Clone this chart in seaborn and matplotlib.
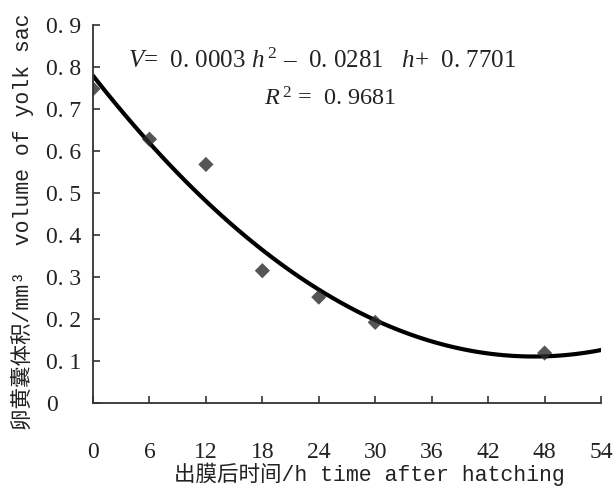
import matplotlib
matplotlib.use("Agg")
import matplotlib.pyplot as plt
import seaborn as sns

# hours after hatching and yolk sac volume (mm^3)
hours = [0, 6, 12, 18, 24, 30, 48]
volume = [0.748, 0.628, 0.568, 0.315, 0.252, 0.192, 0.119]

x_ticks = [0, 6, 12, 18, 24, 30, 36, 42, 48, 54]
y_ticks = [0, 0.1, 0.2, 0.3, 0.4, 0.5, 0.6, 0.7, 0.8, 0.9]
y_tick_labels = ["0", "0. 1", "0. 2", "0. 3", "0. 4", "0. 5", "0. 6", "0. 7", "0. 8", "0. 9"]

equation = r"$V$=  0. 0003 $h^{\,2}$ –  0. 0281   $h$+  0. 7701"
r_squared = r"$R^{\,2}$ =  0. 9681"
x_title = "出膜后时间/h time after hatching"
y_title = "卵黄囊体积/mm³  volume of yolk sac"

sns.set_style("ticks")
plt.rcParams["font.family"] = ["Liberation Serif", "Noto Sans CJK SC"]
plt.rcParams["mathtext.fontset"] = "custom"
plt.rcParams["mathtext.rm"] = "Liberation Serif"
plt.rcParams["mathtext.it"] = "Liberation Serif:italic"

fig = plt.figure(figsize=(6.14, 4.92), dpi=100)
ax = fig.add_axes([0.1515, 0.1809, 0.8274, 0.7683])
ax.set_xlim(0, 54)
ax.set_ylim(0, 0.9)

sns.regplot(x=hours, y=volume, order=2, ci=None, truncate=False, ax=ax,
            marker="D",
            scatter_kws={"s": 60, "color": "#2b2b2b", "edgecolor": "none", "zorder": 3},
            line_kws={"color": "black", "linewidth": 3.0, "zorder": 2})

ax.set_xticks(x_ticks)
ax.set_yticks(y_ticks)
ax.set_yticklabels(y_tick_labels)
for lab in ax.get_yticklabels():
    lab.set_horizontalalignment("left")
ax.tick_params(axis="both", direction="in", length=5, width=1.2, colors="#333333",
               labelcolor="#222222", labelsize=17)
ax.tick_params(axis="x", pad=28)
ax.tick_params(axis="y", pad=34)

sns.despine(ax=ax)
for side in ["left", "bottom"]:
    ax.spines[side].set_color("#333333")
    ax.spines[side].set_linewidth(1.3)

ax.text(0.068, 0.905, equation, transform=ax.transAxes, fontsize=18,
        color="#222222", ha="left", va="center")
ax.text(0.336, 0.805, r_squared, transform=ax.transAxes, fontsize=17.5,
        color="#222222", ha="left", va="center")

mono = ["Liberation Mono", "Noto Sans CJK SC"]
fig.text(0.601, 0.035, x_title, family=mono, fontsize=15.5, color="#222222",
         ha="center", va="center")
fig.text(0.036, 0.55, y_title, family=mono, fontsize=15.5, color="#222222",
         ha="center", va="center", rotation=90)

plt.savefig("out.png", dpi=100)
